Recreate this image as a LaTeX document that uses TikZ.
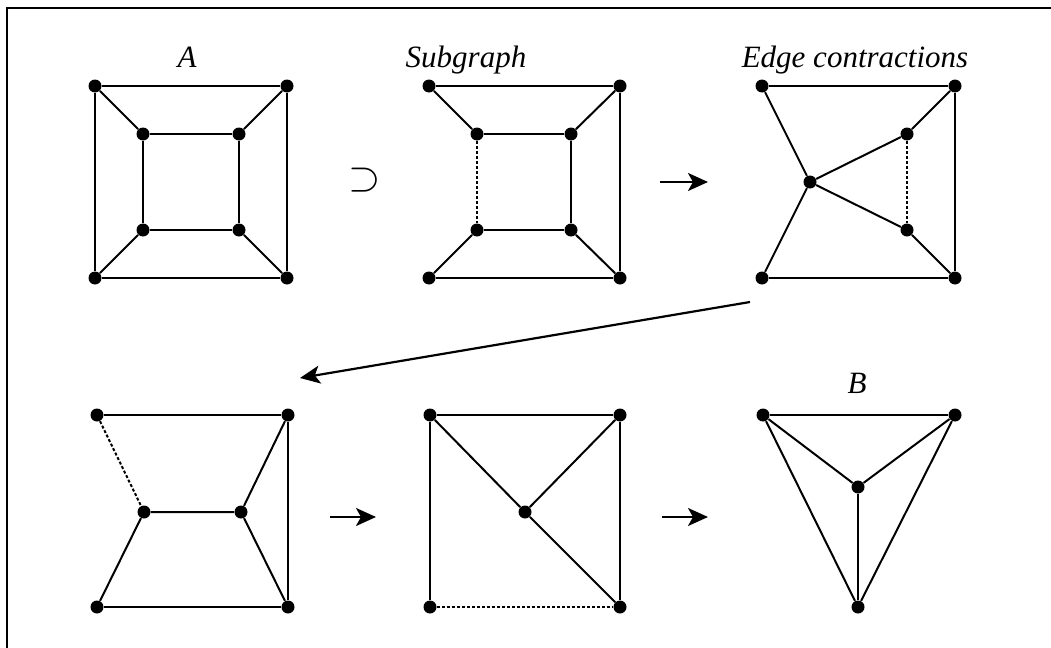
\documentclass[tikz,border=0pt]{standalone}
\usepackage{fontspec}
\setmainfont{Liberation Serif}
\usetikzlibrary{arrows.meta}

\begin{document}
\begin{tikzpicture}[x=0.5pt, y=-0.5pt,
  every node/.style={font=\fontsize{15.5}{18}\selectfont\itshape},
  vertex/.style={circle, fill=black, inner sep=0pt, minimum size=6.5pt},
  link/.style={line width=1pt},
  cut/.style={line width=1pt, dash pattern=on 1.5pt off 1pt},
  title/.style={anchor=base},
  arrow/.style={-{Stealth[length=10pt, width=9pt, inset=2.5pt]}, line width=1.1pt}
]

\useasboundingbox (0,0) rectangle (1051,648);
\draw[line width=1pt] (1051,8) -- (7,8) -- (7,648);

\node[title] (ta) at (187,68) {A};
\node[title] (tsub) at (466,68) {Subgraph};
\node[title] (tedge) at (855,68) {Edge contractions};
\node[title] (tb) at (857,393) {B};

\node[vertex] (a1) at (95,86) {};
\node[vertex] (a2) at (287,86) {};
\node[vertex] (a3) at (95,278) {};
\node[vertex] (a4) at (287,278) {};
\node[vertex] (a5) at (143,134) {};
\node[vertex] (a6) at (239,134) {};
\node[vertex] (a7) at (143,230) {};
\node[vertex] (a8) at (239,230) {};
\draw[link] (a1) -- (a2) -- (a4) -- (a3) -- (a1);
\draw[link] (a5) -- (a6) -- (a8) -- (a7) -- (a5);
\draw[link] (a1) -- (a5) (a2) -- (a6) (a3) -- (a7) (a4) -- (a8);

\node[font=\fontsize{21}{24}\selectfont] (union) at (365,180) {$\supset$};

\node[vertex] (s1) at (429,86) {};
\node[vertex] (s2) at (620,86) {};
\node[vertex] (s3) at (429,278) {};
\node[vertex] (s4) at (620,278) {};
\node[vertex] (s5) at (477,134) {};
\node[vertex] (s6) at (571,134) {};
\node[vertex] (s7) at (477,230) {};
\node[vertex] (s8) at (571,230) {};
\draw[link] (s3) -- (s4) -- (s2) -- (s1);
\draw[link] (s7) -- (s8) -- (s6) -- (s5);
\draw[cut] (s5) -- (s7);
\draw[link] (s1) -- (s5) (s2) -- (s6) (s3) -- (s7) (s4) -- (s8);

\coordinate (r1) at (660,182);
\coordinate (r2) at (708,182);
\draw[arrow] (r1) -- (r2);

\node[vertex] (c1) at (762,86) {};
\node[vertex] (c2) at (955,86) {};
\node[vertex] (c3) at (762,278) {};
\node[vertex] (c4) at (955,278) {};
\node[vertex] (c5) at (810,182) {};
\node[vertex] (c6) at (907,134) {};
\node[vertex] (c7) at (907,230) {};
\draw[link] (c3) -- (c4) -- (c2) -- (c1);
\draw[link] (c1) -- (c5) -- (c3);
\draw[link] (c5) -- (c6) -- (c2);
\draw[link] (c5) -- (c7) -- (c4);
\draw[cut] (c6) -- (c7);

\coordinate (back1) at (750,302);
\coordinate (back2) at (300,378);
\draw[arrow] (back1) -- (back2);

\node[vertex] (d1) at (97,415) {};
\node[vertex] (d2) at (288,415) {};
\node[vertex] (d3) at (97,607) {};
\node[vertex] (d4) at (288,607) {};
\node[vertex] (d5) at (144,512) {};
\node[vertex] (d6) at (241,512) {};
\draw[link] (d1) -- (d2) -- (d4) -- (d3);
\draw[link] (d3) -- (d5) -- (d6) -- (d4);
\draw[link] (d6) -- (d2);
\draw[cut] (d1) -- (d5);

\coordinate (q1) at (330,517);
\coordinate (q2) at (376,517);
\draw[arrow] (q1) -- (q2);

\node[vertex] (e1) at (430,415) {};
\node[vertex] (e2) at (620,415) {};
\node[vertex] (e3) at (430,607) {};
\node[vertex] (e4) at (620,607) {};
\node[vertex] (e5) at (525,512) {};
\draw[link] (e3) -- (e1) -- (e2) -- (e4);
\draw[link] (e1) -- (e5) -- (e4);
\draw[link] (e5) -- (e2);
\draw[cut] (e3) -- (e4);

\coordinate (p1) at (662,517);
\coordinate (p2) at (708,517);
\draw[arrow] (p1) -- (p2);

\node[vertex] (b1) at (763,415) {};
\node[vertex] (b2) at (955,415) {};
\node[vertex] (b3) at (858,487) {};
\node[vertex] (b4) at (858,607) {};
\draw[link] (b1) -- (b2);
\draw[link] (b1) -- (b3) -- (b2);
\draw[link] (b3) -- (b4);
\draw[link] (b1) -- (b4) -- (b2);

\end{tikzpicture}
\end{document}
